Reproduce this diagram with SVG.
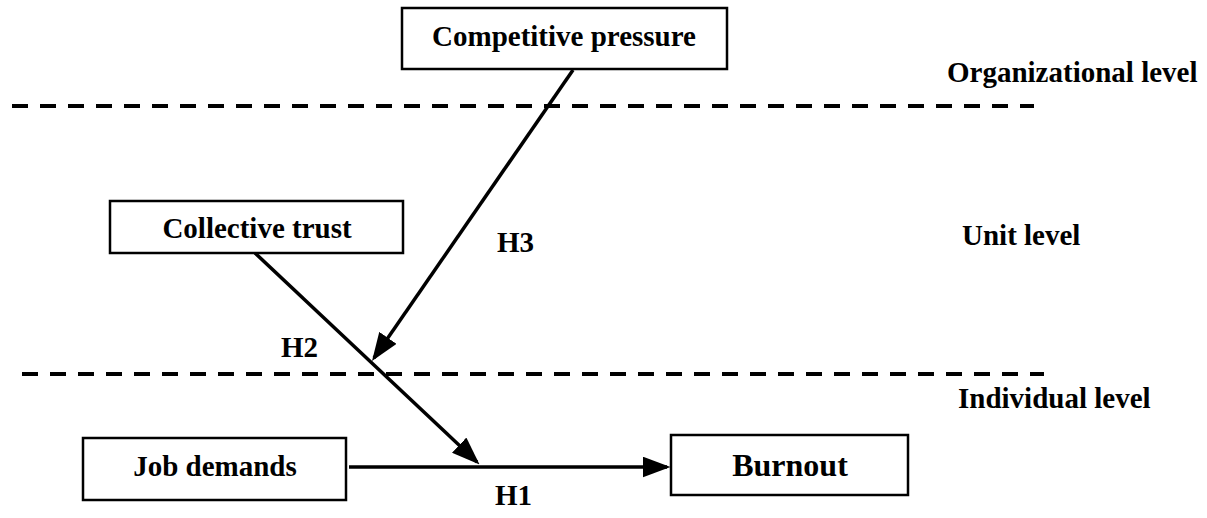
<svg xmlns="http://www.w3.org/2000/svg" width="1207" height="518" viewBox="0 0 1207 518">
<style>
.box{fill:#fff;stroke:#000;stroke-width:2.5}
.t{font-family:"Liberation Serif","Times New Roman",serif;font-weight:bold;font-size:29px;fill:#000}
.c{text-anchor:middle}
.dash{stroke:#000;stroke-width:4;stroke-dasharray:16 12;fill:none}
.arr{stroke:#000;stroke-width:3.5;fill:none}
</style>
<defs>
<marker id="ah" markerWidth="8" markerHeight="6" refX="7" refY="3" orient="auto" markerUnits="strokeWidth">
<path d="M0,0 L8,3 L0,6 z" fill="#000"/>
</marker>
</defs>
<g id="levels">
<line class="dash" x1="12" y1="106" x2="1034" y2="106"/>
<line class="dash" x1="22" y1="374" x2="1044" y2="374"/>
<text class="t" x="947" y="82">Organizational level</text>
<text class="t" x="962" y="245">Unit level</text>
<text class="t" x="958" y="408">Individual level</text>
</g>
<g id="connectors">
<line class="arr" x1="573" y1="70" x2="374" y2="358" marker-end="url(#ah)"/>
<line class="arr" x1="255" y1="253" x2="477" y2="462" marker-end="url(#ah)"/>
<line class="arr" x1="349" y1="467" x2="667" y2="467" marker-end="url(#ah)"/>
<text class="t" x="497" y="252">H3</text>
<text class="t" x="281" y="357">H2</text>
<text class="t" x="495" y="505">H1</text>
</g>
<g id="competitive-pressure">
<rect class="box" x="402" y="8" width="325" height="61"/>
<text class="t c" x="564" y="46">Competitive pressure</text>
</g>
<g id="collective-trust">
<rect class="box" x="110" y="201" width="293" height="52"/>
<text class="t c" x="257" y="238">Collective trust</text>
</g>
<g id="job-demands">
<rect class="box" x="83" y="438" width="263" height="62"/>
<text class="t c" x="215" y="476">Job demands</text>
</g>
<g id="burnout">
<rect class="box" x="671" y="435" width="237" height="60"/>
<text class="t c" x="790" y="476" style="font-size:32px">Burnout</text>
</g>
</svg>
